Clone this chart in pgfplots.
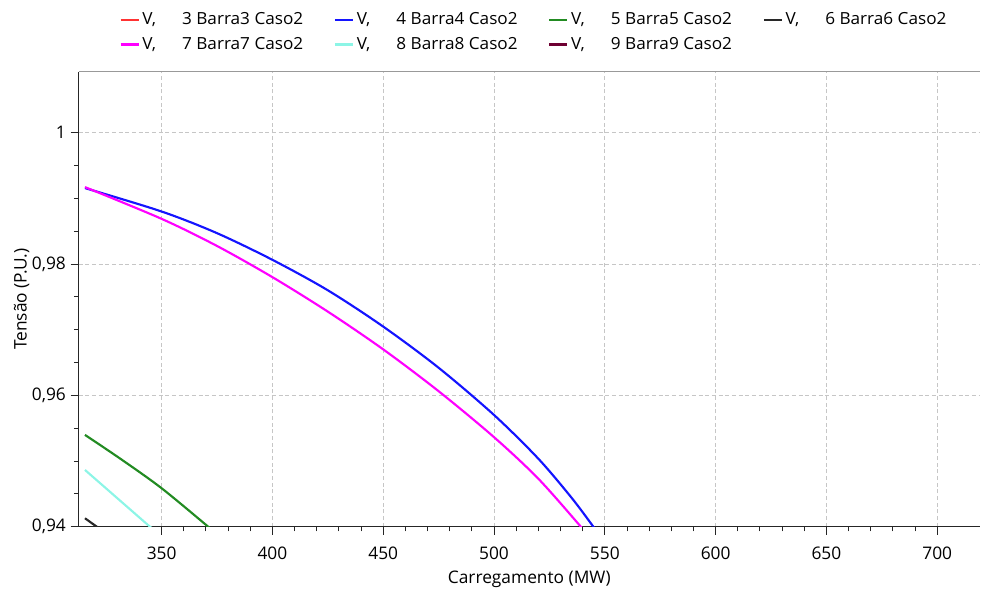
\documentclass[border=0pt]{standalone}
\usepackage{fontspec}
\setmainfont{Open Sans}
\usepackage{pgfplots}
\pgfplotsset{compat=1.18}
\definecolor{cRed}{RGB}{255,50,50}
\definecolor{cBlue}{RGB}{20,20,255}
\definecolor{cGreen}{RGB}{34,139,34}
\definecolor{cBlack}{RGB}{40,40,40}
\definecolor{cMag}{RGB}{255,0,255}
\definecolor{cCyan}{RGB}{140,245,230}
\definecolor{cMaroon}{RGB}{110,0,50}
\newcommand{\lt}[1]{\makebox[141.5pt][l]{\scalebox{1.03}[1]{V,\hspace{19pt}#1}}}
\begin{document}
\begin{tikzpicture}
\begin{axis}[
  at={(0,0)}, anchor=south west, scale only axis,
  width=676.1pt, height=341.25pt,
  xmin=312.5, xmax=719.3, ymin=0.94, ymax=1.0093,
  axis x line*=bottom, axis y line*=left,
  axis line style={-, draw=black!85, line width=0.8pt},
  xtick={350,400,...,700}, ytick={0.94,0.96,0.98,1},
  minor x tick num=4, minor y tick num=3,
  tick align=outside, xtick pos=left, ytick pos=left,
  major tick length=6pt, minor tick length=3.5pt,
  every tick/.style={black!85, line width=0.7pt},
  grid=major,
  major grid style={gray!45, dash pattern=on 3pt off 2pt, line width=0.6pt},
  /pgf/number format/assume math mode=true,
  /pgf/number format/use comma,
  yticklabel style={/pgf/number format/fixed, /pgf/number format/precision=2},
  ticklabel style={font=\fontsize{13}{15}\selectfont},
  xticklabel style={yshift=-6pt},
  xlabel={Carregamento (MW)}, ylabel={Tensão (P.U.)},
  label style={font=\fontsize{13}{15}\selectfont},
  xlabel style={at={(axis description cs:0.5,-0.115)}, anchor=center},
  ylabel style={at={(axis description cs:-0.063,0.5)}, anchor=center, rotate=0},
  legend columns=4,
  legend style={at={(axis description cs:0.045,1.1356)}, anchor=north west,
    draw=none, fill=none, font=\fontsize{12.5}{14}\selectfont,
    /tikz/every even column/.append style={column sep=0pt},
    row sep=4pt, inner sep=0pt},
  legend cell align=left,
  legend image code/.code={\draw[#1, line width=1.8pt] (0pt,0pt) -- (13.5pt,0pt);},
  clip=true,
]
\addlegendimage{cRed}
\addlegendentry{\lt{3 Barra3 Caso2}}
\addplot[cBlue, line width=1.6pt, smooth, forget plot] coordinates {
(315.4,0.99157) (350,0.98800) (375,0.98470) (400,0.98064) (425,0.97600)
(450,0.97047) (475,0.96420) (500,0.95701) (520,0.95035) (535,0.94440)
(544.5,0.94014) (546,0.9394)
};
\addlegendimage{cBlue}
\addlegendentry{\lt{4 Barra4 Caso2}}
\addplot[cGreen, line width=1.6pt, smooth, forget plot] coordinates {
(315.4,0.95398) (332,0.95020) (350,0.94585) (371.0,0.94000) (372,0.9397)
};
\addlegendimage{cGreen}
\addlegendentry{\lt{5 Barra5 Caso2}}
\addplot[cBlack, line width=1.6pt, forget plot] coordinates {
(315.4,0.94128) (320.7,0.94000) (321.5,0.9398)
};
\addlegendimage{cBlack}
\addlegendentry{\lt{6 Barra6 Caso2}}
\addplot[cMag, line width=1.6pt, smooth, forget plot] coordinates {
(315.4,0.99172) (350,0.98688) (375,0.98275) (400,0.97800) (425,0.97275)
(450,0.96700) (475,0.96063) (500,0.95363) (520,0.94730) (538.8,0.94014)
(540,0.9396)
};
\addlegendimage{cMag}
\addlegendentry{\lt{7 Barra7 Caso2}}
\addplot[cCyan, line width=1.6pt, forget plot] coordinates {
(315.4,0.94864) (344.7,0.94000) (345.5,0.9398)
};
\addlegendimage{cCyan}
\addlegendentry{\lt{8 Barra8 Caso2}}
\addlegendimage{cMaroon}
\addlegendentry{\lt{9 Barra9 Caso2}}
\draw[gray!80, line width=0.8pt] (rel axis cs:0,1) -- (rel axis cs:1,1);
\end{axis}
\path (-58.9pt,-49pt) rectangle (677.6pt,395pt);
\end{tikzpicture}
\end{document}
